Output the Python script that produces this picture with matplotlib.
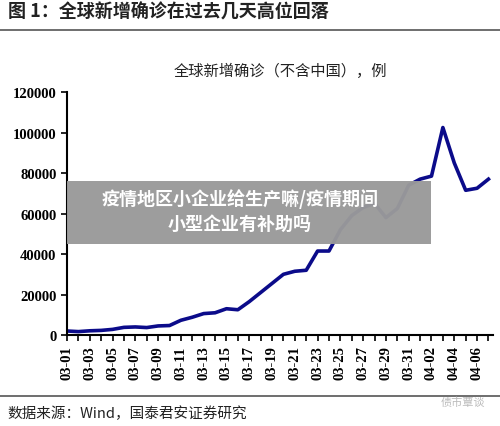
import matplotlib
matplotlib.use("Agg")
import matplotlib.pyplot as plt
from matplotlib.lines import Line2D
from matplotlib.patches import Rectangle

CJK = ["Noto Sans CJK SC", "DejaVu Sans"]
SERIF = "Liberation Serif"

dates = ["03-%02d" % d for d in range(1, 32)] + ["04-%02d" % d for d in range(1, 8)]
cases = [2000, 1700, 2100, 2300, 2800, 3800, 4000, 3700, 4500, 4700,
         7300, 8800, 10600, 11000, 13000, 12500, 16500, 21000, 25500, 30000,
         31500, 32000, 41500, 41500, 52000, 59000, 63000, 65000, 58000, 62500,
         74000, 77000, 78500, 102500, 85000, 71500, 72500, 77000]
yticks = [0, 20000, 40000, 60000, 80000, 100000, 120000]

fig = plt.figure(figsize=(5.0, 4.27), dpi=100)
ax = fig.add_axes([0.134, 0.213, 0.852, 0.569])
x = list(range(len(dates)))
ax.plot(x, cases, color="#0b0b8a", lw=2.6, zorder=2)
ax.set_xlim(0, len(dates) - 0.6)
ax.set_ylim(0, 120000)
ax.set_yticks(yticks)
ax.set_yticklabels([str(v) for v in yticks], fontfamily=SERIF, fontsize=10.5, fontweight="bold")
ax.set_xticks(x[::2])
ax.set_xticklabels(dates[::2], rotation=90, fontfamily=SERIF, fontsize=10.5, fontweight="bold")
ax.set_xticks(x, minor=True)
ax.tick_params(axis="both", direction="out", length=4, width=1.2)
ax.tick_params(axis="x", which="minor", length=4, width=1.2)
for s in ("top", "right"):
    ax.spines[s].set_visible(False)
for s in ("left", "bottom"):
    ax.spines[s].set_linewidth(1.5)

fig.text(0.015, 0.972, "图 1：全球新增确诊在过去几天高位回落", family=CJK, fontsize=13,
         fontweight="bold", va="center", color="#222222")
fig.add_artist(Line2D([0, 1], [0.927, 0.927], color="#555555", lw=1.2))
fig.text(0.56, 0.832, "全球新增确诊（不含中国），例", family=CJK, fontsize=11,
         ha="center", va="center", color="#222222")
fig.add_artist(Line2D([0, 1], [0.07, 0.07], color="#555555", lw=1.2))
fig.text(0.015, 0.03, "数据来源：Wind，国泰君安证券研究", family=CJK, fontsize=10.5,
         va="center", color="#222222")
fig.text(0.97, 0.058, "债市覃谈", family=CJK, fontsize=8, ha="right", va="center", color="#bbbbbb")

fig.add_artist(Rectangle((0.134, 0.426), 0.728, 0.148, transform=fig.transFigure,
                         facecolor="#9a9a9a", edgecolor="none", alpha=0.97, zorder=5))
fig.text(0.48, 0.534, "疫情地区小企业给生产嘛/疫情期间", family=CJK, fontsize=13, fontweight="bold",
         ha="center", va="center", color="white", zorder=6)
fig.text(0.48, 0.474, "小型企业有补助吗", family=CJK, fontsize=13, fontweight="bold",
         ha="center", va="center", color="white", zorder=6)

fig.savefig("out.png", dpi=100, facecolor="white")
